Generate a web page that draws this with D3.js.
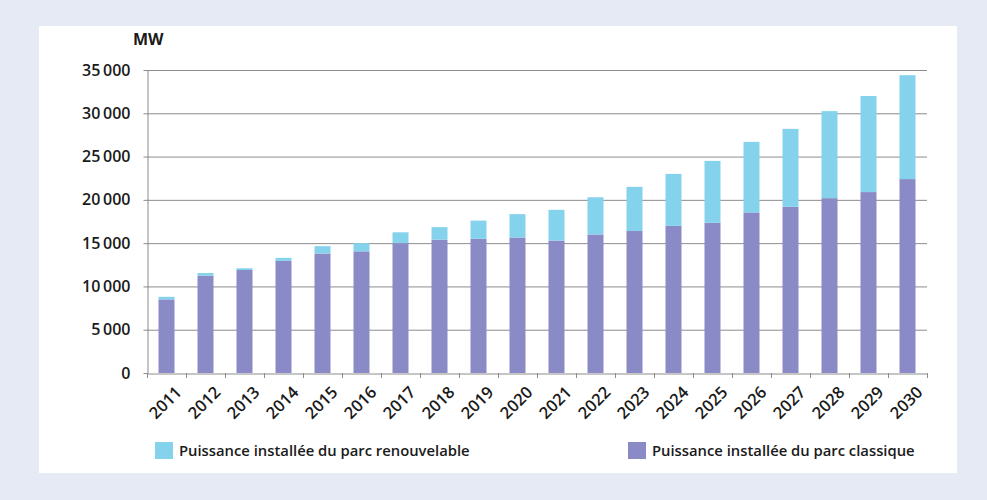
<!DOCTYPE html>
<html>
<head>
<meta charset="utf-8">
<script src="https://cdn.jsdelivr.net/npm/d3@7"></script>
<style>
  html, body { margin: 0; padding: 0; background: #e6eaf5; }
  svg { display: block; }
  text { font-family: "Open Sans", "Liberation Sans", sans-serif; fill: #1a1a1a; }
</style>
</head>
<body>
<svg id="chart" width="987" height="500"></svg>
<script>
// Installed capacity (MW) per year
const years = ["2011","2012","2013","2014","2015","2016","2017","2018","2019","2020",
               "2021","2022","2023","2024","2025","2026","2027","2028","2029","2030"];
const classique = [8500, 11250, 11900, 12950, 13800, 14050, 15000, 15400, 15500, 15650,
                   15300, 16000, 16400, 17000, 17350, 18550, 19200, 20200, 20900, 22400];
const renouvelable = [300, 300, 200, 350, 850, 950, 1250, 1450, 2100, 2700,
                      3550, 4300, 5100, 6000, 7150, 8150, 9000, 10050, 11100, 12000];
const yTicks = [0, 5000, 10000, 15000, 20000, 25000, 30000, 35000];
const seriesNames = ["Puissance installée du parc renouvelable", "Puissance installée du parc classique"];
const colors = { classique: "#8a8ac6", renouvelable: "#84d2ec" };

const svg = d3.select("#chart");

// white card
svg.append("rect").attr("x", 39).attr("y", 26).attr("width", 918).attr("height", 447).attr("fill", "#fff");

const plot = { left: 147, right: 927, top: 70, bottom: 373 };

const x = d3.scaleBand().domain(years).range([plot.left, plot.right]).paddingInner(0.59).paddingOuter(0.295);
const y = d3.scaleLinear().domain([0, 35000]).range([plot.bottom, plot.top]);

const fmt = v => d3.format(",")(v).replace(/,/g, "\u2009");

// gridlines
svg.append("g")
  .selectAll("line").data(yTicks.filter(d => d > 0)).join("line")
  .attr("x1", plot.left).attr("x2", plot.right)
  .attr("y1", d => y(d) + 0.5).attr("y2", d => y(d) + 0.5)
  .attr("stroke", "#8c8c8c").attr("stroke-width", 1);

// stacked bars
const rows = years.map((yr, i) => ({ year: yr, classique: classique[i], renouvelable: renouvelable[i] }));
const stack = d3.stack().keys(["classique", "renouvelable"])(rows);
svg.append("g").selectAll("g").data(stack).join("g")
  .attr("fill", s => colors[s.key])
  .selectAll("rect").data(s => s).join("rect")
  .attr("x", d => x(d.data.year))
  .attr("width", x.bandwidth())
  .attr("y", d => y(d[1]))
  .attr("height", d => y(d[0]) - y(d[1]));

// y axis
const yAxis = svg.append("g")
  .attr("transform", `translate(${plot.left + 0.5},0)`)
  .call(d3.axisLeft(y).tickValues(yTicks).tickSize(4).tickSizeOuter(0).tickPadding(13).tickFormat(fmt));
yAxis.select(".domain").attr("stroke", "#8c8c8c");
yAxis.selectAll(".tick line").attr("stroke", "#8c8c8c");
yAxis.selectAll(".tick text")
  .attr("font-size", 16).attr("font-weight", 600).attr("fill", "#1a1a1a")
  .style("font-family", "'Open Sans', sans-serif");

// x axis
const xAxis = svg.append("g")
  .attr("transform", `translate(0,${plot.bottom + 0.5})`)
  .call(d3.axisBottom(x).tickSize(0).tickSizeOuter(0).tickFormat(""));
xAxis.select(".domain").attr("stroke", "#8c8c8c");
// tick marks between categories
const step = x.step();
const bounds = d3.range(years.length + 1).map(i => plot.left + i * step);
svg.append("g").selectAll("line").data(bounds).join("line")
  .attr("x1", d => d + 0.5).attr("x2", d => d + 0.5)
  .attr("y1", plot.bottom).attr("y2", plot.bottom + 5)
  .attr("stroke", "#8c8c8c");
// rotated year labels
svg.append("g").selectAll("text").data(years).join("text")
  .attr("transform", d => `translate(${x(d) + x.bandwidth() / 2 + 8},${plot.bottom + 12}) rotate(-45)`)
  .attr("text-anchor", "end")
  .attr("dy", "0.71em")
  .attr("font-size", 16.5).attr("font-weight", 600)
  .text(d => d);

// unit label
svg.append("text").attr("x", 133).attr("y", 45)
  .attr("font-size", 16).attr("font-weight", 700).text("MW");

// legend
const legend = [
  { name: seriesNames[0], color: colors.renouvelable, x: 155 },
  { name: seriesNames[1], color: colors.classique, x: 628 }
];
const lg = svg.append("g").selectAll("g").data(legend).join("g")
  .attr("transform", d => `translate(${d.x},442)`);
lg.append("rect").attr("width", 18).attr("height", 17).attr("fill", d => d.color);
lg.append("text").attr("x", 24).attr("y", 14)
  .attr("font-size", 14.8).attr("font-weight", 600).text(d => d.name);
</script>
</body>
</html>
